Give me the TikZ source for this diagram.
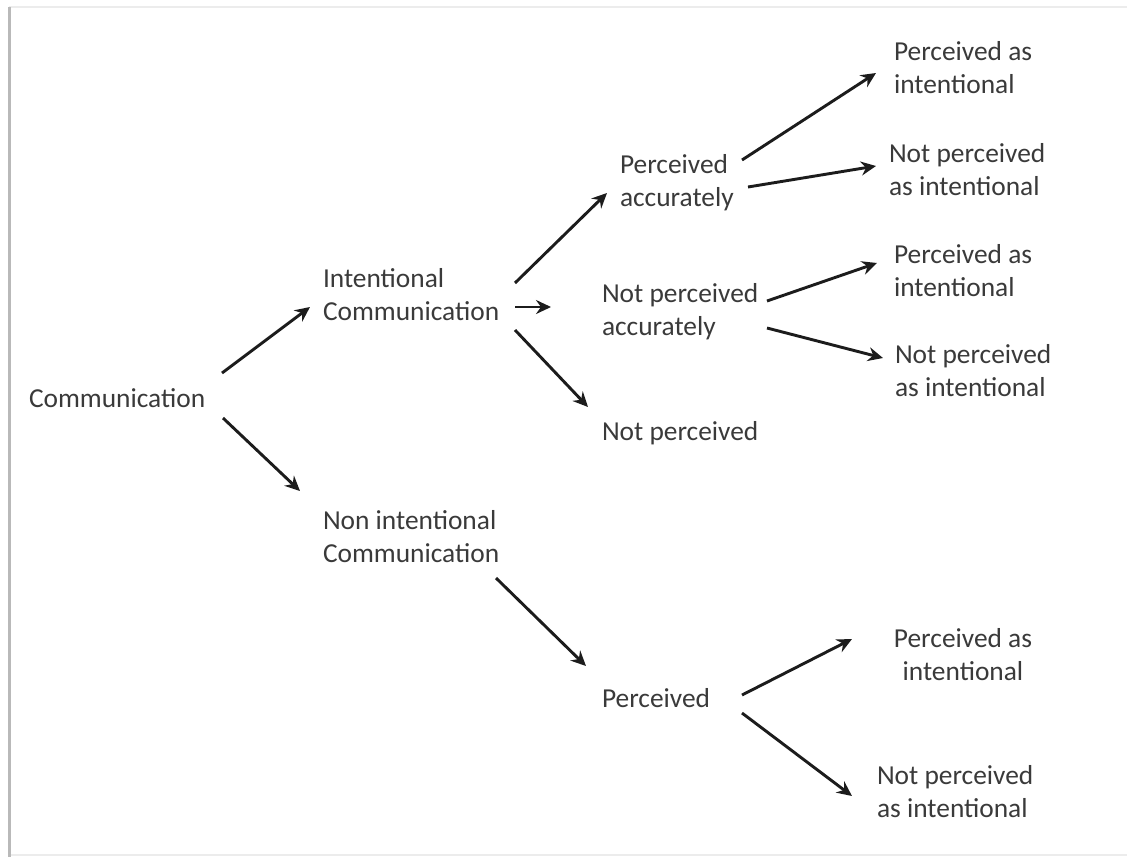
\documentclass[tikz,border=0pt]{standalone}
\usepackage{fontspec}
\setmainfont{Carlito}
\usetikzlibrary{arrows.meta,calc}
\definecolor{txt}{RGB}{58,58,58}
\definecolor{arrc}{RGB}{28,28,28}
\tikzset{
  lbl/.style={inner sep=0pt, outer sep=0pt, text=txt, align=left,
    font=\fontsize{27.4pt}{33pt}\selectfont, anchor=base west},
  lblc/.style={lbl, align=center, anchor=base},
  arr/.style={draw=arrc, line width=2.9pt,
    -{Stealth[length=15pt,width=14pt,inset=5pt]}}
}
\begin{document}
\begin{tikzpicture}[x=1pt,y=-1pt]
\useasboundingbox (0,0) rectangle (1127,857);
\fill[white] (0,0) rectangle (1127,857);
% frame
\draw[gray!15, line width=1.5pt] (9,7) -- (1127,7);
\draw[gray!15, line width=1.5pt] (9,855) -- (1127,855);
\draw[gray!55, line width=3pt] (9,7) -- (9,857);
% nodes (base = baseline of the last line)
\node[lbl] (comm)   at (29,407)  {Communication};
\node[lbl] (int)    at (323,320) {Intentional\\Communication};
\node[lbl] (nonint) at (323,562) {Non intentional\\Communication};
\node[lbl] (pacc)   at (620,206) {Perceived\\accurately};
\node[lbl] (npacc)  at (602,335) {Not perceived\\accurately};
\node[lbl] (np)     at (602,440) {Not perceived};
\node[lbl] (perc)   at (602,707) {Perceived};
\node[lbl] (pai1)   at (894,93)  {Perceived as\\intentional};
\node[lbl] (npai1)  at (889,195) {Not perceived\\as intentional};
\node[lbl] (pai2)   at (894,296) {Perceived as\\intentional};
\node[lbl] (npai2)  at (895,396) {Not perceived\\as intentional};
\node[lblc] (pai3)  at (963,680) {Perceived as\\intentional};
\node[lbl] (npai3)  at (877,817) {Not perceived\\as intentional};
% connectors
\draw[arr] ($(comm.base west)+(193,-34)$) -- ($(int.base west)+(-13,-13)$);
\draw[arr] ($(comm.base west)+(194,11)$) -- ($(nonint.base west)+(-23,-71)$);
\draw[arr] ($(int.base west)+(192,-37)$) -- ($(pacc.base west)+(-13,-13)$);
\draw[arr] ($(int.base west)+(192,-13)$) -- ($(npacc.base west)+(-51,-28)$);
\draw[arr] ($(int.base west)+(192,10)$) -- ($(np.base west)+(-14,-33)$);
\draw[arr] ($(pacc.base west)+(122,-46)$) -- ($(pai1.base west)+(-18,-20)$);
\draw[arr] ($(pacc.base west)+(128,-19)$) -- ($(npai1.base west)+(-13,-29)$);
\draw[arr] ($(npacc.base west)+(165,-34)$) -- ($(pai2.base west)+(-17,-33)$);
\draw[arr] ($(npacc.base west)+(165,-7)$) -- ($(npai2.base west)+(-12,-38)$);
\draw[arr] ($(nonint.base west)+(173,16)$) -- ($(perc.base west)+(-16,-41)$);
\draw[arr] ($(perc.base west)+(140,-12)$) -- ($(pai3.base)+(-111,-41)$);
\draw[arr] ($(perc.base west)+(140,6)$) -- ($(npai3.base west)+(-25,-21)$);
\end{tikzpicture}
\end{document}
